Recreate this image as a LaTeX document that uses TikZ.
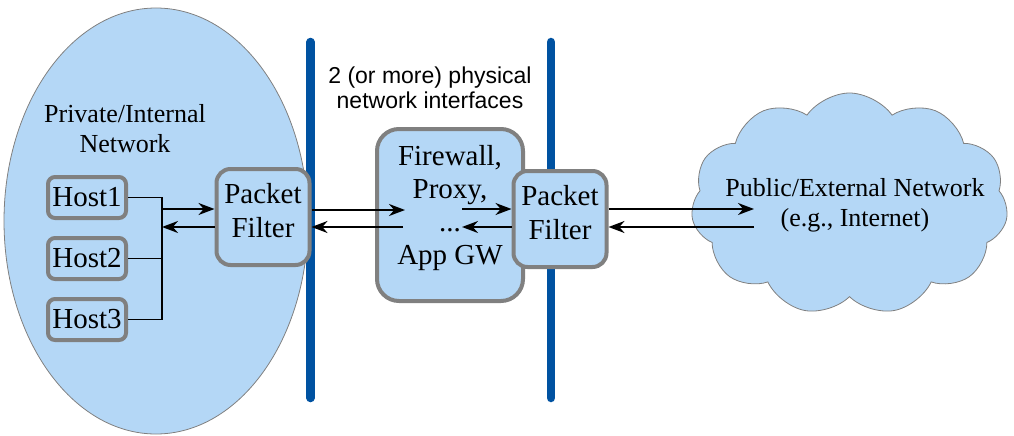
\documentclass[tikz,border=0pt]{standalone}
\usepackage{fontspec}
\setmainfont{Liberation Serif}
\setsansfont{Liberation Sans}
\usepackage{xcolor}
\usetikzlibrary{positioning,arrows.meta,calc,shapes.geometric,shapes.symbols}
\definecolor{netblue}{HTML}{B4D7F6}
\definecolor{wireblue}{HTML}{0052A1}
\definecolor{rim}{HTML}{808080}
\tikzset{
  box/.style     = {rectangle, rounded corners=#1, draw=rim, fill=netblue, line width=4pt,
                    inner sep=0pt, align=center, font=\fontsize{29}{34}\selectfont},
  box/.default   = 14pt,
  host/.style    = {box=7pt, minimum width=78pt, minimum height=41pt, font=\fontsize{29}{34}\selectfont},
  pf/.style      = {box, minimum width=93pt, minimum height=96pt, text depth=14pt},
  wire/.style    = {line width=8.5pt, draw=wireblue, line cap=round},
  tie/.style     = {line width=1.7pt},
  flow/.style    = {-{Stealth[length=16pt,width=12pt]}, line width=2pt},
  lbl/.style     = {align=center, font=\fontsize{26}{30}\selectfont},
}

\begin{document}
\begin{tikzpicture}[x=1pt, y=-1pt, node distance=16pt]
  \useasboundingbox (0,0) rectangle (1014,436);
  % internal side
  \node[ellipse, draw=rim, line width=0.8pt, fill=netblue, minimum width=304pt,
        minimum height=426pt, inner sep=0pt] (lan) at (156,221) {};
  \node[lbl] (lanlbl) at (125,129) {Private/Internal\\Network};
  % the two interfaces
  \draw[wire] (310.5,42) -- (310.5,398);
  \draw[wire] (551,42) -- (551,398);
  \node[lbl, font=\sffamily\fontsize{23}{25}\selectfont] (ifl) at (430,88)
    {2 (or more) physical\\network interfaces};
  % hosts
  \node[host] (h1) at (87,197.5) {Host1};
  \node[host, below=of h1] (h2) {Host2};
  \node[host, below=of h2] (h3) {Host3};
  \coordinate[right=34pt of h1.east] (j1);
  \draw[tie] (h1.east) -- (j1) -- (j1 |- h3.east) -- (h3.east);
  \draw[tie] (h2.east) -- (j1 |- h2.east);
  % filters and gateway
  \node[pf] (pfL) at (263,217) {Packet\\Filter};
  \node[box=22pt, minimum width=146pt, minimum height=172pt, text depth=21pt,
        font=\fontsize{29}{33}\selectfont] (fw) at (450,215)
    {Firewall,\\Proxy,\\...\\App GW};
  \node[pf] (pfR) at (560,219) {Packet\\Filter};
  % external side
  \node[cloud, cloud puffs=11, cloud puff arc=110, draw=rim, line width=0.8pt,
        fill=netblue, minimum width=317pt, minimum height=222pt, inner sep=0pt] (net)
    at (849.5,204) {};
  \node[lbl] (netlbl) at (855,205) {Public/External Network\\(e.g., Internet)};
  \coordinate (inet) at (754,218);
  % traffic
  \draw[flow] ([yshift=8pt]j1 |- pfL.west) -- ([yshift=8pt]pfL.west);
  \draw[flow] ([yshift=-10pt]pfL.west) -- ([yshift=-10pt]j1 |- pfL.west);
  \draw[flow] ([yshift=7pt]pfL.east) -- ([xshift=30pt, yshift=7pt]fw.west |- pfL.east);
  \draw[flow] ([xshift=28pt, yshift=-10pt]fw.west |- pfL.east) -- ([yshift=-10pt]pfL.east);
  \draw[flow] ([xshift=12pt, yshift=10pt]fw.center |- pfR.west) -- ([yshift=10pt]pfR.west);
  \draw[flow] ([yshift=-8pt]pfR.west) -- ([xshift=12pt, yshift=-8pt]fw.center |- pfR.west);
  \draw[flow] ([yshift=10pt]pfR.east) -- ([yshift=10pt]inet |- pfR.east);
  \draw[flow] ([yshift=-8pt]inet |- pfR.east) -- ([yshift=-8pt]pfR.east);
\end{tikzpicture}
\end{document}
